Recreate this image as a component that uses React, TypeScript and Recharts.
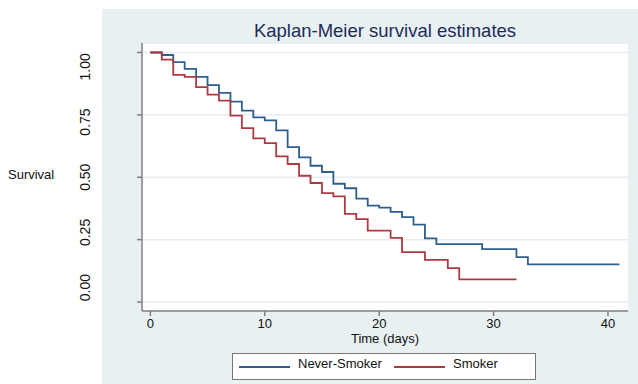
import React from "react";
import { LineChart, Line, XAxis, YAxis, CartesianGrid, Label } from "recharts";

// Kaplan-Meier step values
const neverSmokerDays = [0, 1, 2, 3, 4, 5, 6, 7, 8, 9, 10, 11, 12, 13, 14, 15, 16, 17, 18, 19, 20, 21, 22, 23, 24, 25, 29, 32, 33, 41];
const neverSmokerSurvival = [1, 0.99, 0.961, 0.934, 0.902, 0.869, 0.838, 0.803, 0.767, 0.74, 0.728, 0.688, 0.621, 0.58, 0.546, 0.521, 0.474, 0.456, 0.414, 0.386, 0.378, 0.361, 0.34, 0.31, 0.255, 0.232, 0.212, 0.18, 0.151, 0.151];

const smokerDays = [0, 1, 2, 3, 4, 5, 6, 7, 8, 9, 10, 11, 12, 13, 14, 15, 16, 17, 18, 19, 21, 22, 24, 26, 27, 32];
const smokerSurvival = [1, 0.971, 0.91, 0.902, 0.861, 0.831, 0.807, 0.747, 0.697, 0.656, 0.637, 0.584, 0.553, 0.506, 0.477, 0.436, 0.423, 0.353, 0.332, 0.286, 0.257, 0.2, 0.169, 0.136, 0.091, 0.091];

const xTicks = [0, 10, 20, 30, 40];
const yTicks = [0, 0.25, 0.5, 0.75, 1];

const BLUE = "#2f5f8d";
const RED = "#ad3a42";
const FONT = "Arial, 'Liberation Sans', sans-serif";

const neverSmokerData = neverSmokerDays.map((d, i) => ({ day: d, surv: neverSmokerSurvival[i] }));
const smokerData = smokerDays.map((d, i) => ({ day: d, surv: smokerSurvival[i] }));

function YTick(props: any) {
  const { x, y, payload } = props;
  // labels in the original sit a little closer together than the ticks
  const cy = 177 + (y - 177) * 0.885;
  const cx = x - 49.5;
  return (
    <text
      x={cx}
      y={cy}
      transform={`rotate(-90, ${cx}, ${cy})`}
      textAnchor="middle"
      dominantBaseline="central"
      fontSize={14}
      fontFamily={FONT}
      fill="#111"
    >
      {payload.value.toFixed(2)}
    </text>
  );
}

export default function App() {
  return (
    <div style={{ position: "relative", width: 638, height: 384, background: "#fff", fontFamily: FONT }}>
      <style>{`body{margin:0}`}</style>
      <div style={{ position: "absolute", left: 102, top: 9, width: 536, height: 375, background: "#e9f0f2" }} />
      <div
        style={{
          position: "absolute",
          left: 142,
          width: 486,
          top: 20,
          textAlign: "center",
          fontSize: 18.5,
          lineHeight: "22px",
          color: "#1c2b5a",
        }}
      >
        Kaplan-Meier survival estimates
      </div>
      <div style={{ position: "absolute", left: 0, top: 0 }}>
        <LineChart width={638} height={384} margin={{ top: 43, right: 10, bottom: 53, left: 0 }}>
          <CartesianGrid vertical={false} stroke="#e6eef1" strokeWidth={1.5} fill="#fff" />
          <XAxis
            type="number"
            dataKey="day"
            domain={[-0.73, 41.75]}
            ticks={xTicks}
            allowDataOverflow
            height={20}
            tickSize={5}
            tickMargin={3}
            stroke="#808080"
            strokeWidth={1.5}
            tick={{ fontSize: 13, fill: "#111", fontFamily: FONT }}
          >
            <Label value="Time (days)" position="bottom" offset={3} style={{ fontSize: 13, fill: "#111", fontFamily: FONT }} />
          </XAxis>
          <YAxis
            type="number"
            dataKey="surv"
            domain={[-0.036, 1.038]}
            ticks={yTicks}
            allowDataOverflow
            width={142}
            tickSize={5}
            stroke="#808080"
            strokeWidth={1.5}
            tick={<YTick />}
          >
            <Label value="Survival" position="insideLeft" offset={8} dy={-3} style={{ fontSize: 13, fill: "#111", fontFamily: FONT, textAnchor: "start" }} />
          </YAxis>
          <Line
            data={neverSmokerData}
            dataKey="surv"
            type="stepAfter"
            stroke={BLUE}
            strokeWidth={1.8}
            dot={false}
            isAnimationActive={false}
            name="Never-Smoker"
          />
          <Line
            data={smokerData}
            dataKey="surv"
            type="stepAfter"
            stroke={RED}
            strokeWidth={1.8}
            dot={false}
            isAnimationActive={false}
            name="Smoker"
          />
        </LineChart>
      </div>
      <div
        style={{
          position: "absolute",
          left: 232,
          top: 353,
          width: 302,
          height: 25,
          background: "#fff",
          border: "1px solid #777",
          fontSize: 13,
          color: "#111",
        }}
      >
        <div style={{ position: "absolute", left: 6, top: 12, width: 51, height: 2, background: BLUE }} />
        <div style={{ position: "absolute", left: 65, top: 2, lineHeight: "15px" }}>Never-Smoker</div>
        <div style={{ position: "absolute", left: 161, top: 12, width: 51, height: 2, background: RED }} />
        <div style={{ position: "absolute", left: 220, top: 2, lineHeight: "15px" }}>Smoker</div>
      </div>
    </div>
  );
}
